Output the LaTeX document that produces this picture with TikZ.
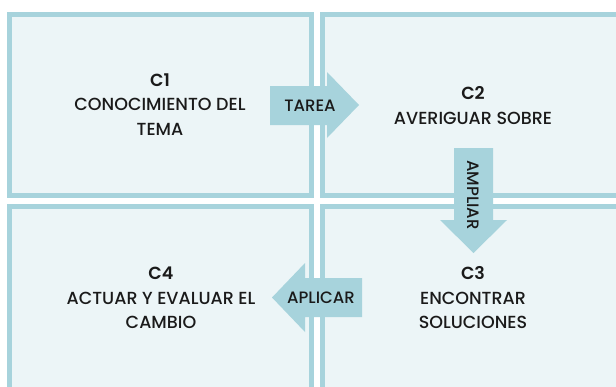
\documentclass[tikz,border=0pt]{standalone}
\usepackage{fontspec}
\setmainfont{Poppins}[UprightFont=* Medium,BoldFont=* SemiBold]
\definecolor{bord}{HTML}{A7D3DC}
\definecolor{fillc}{HTML}{ECF5F7}
\definecolor{txt}{HTML}{1A1A1A}
\begin{document}
\begin{tikzpicture}[x=1pt,y=-1pt,
  box/.style={draw=bord,fill=fillc,line width=5pt},
  arr/.style={fill=bord},
  lbl/.style={text=txt,font=\fontsize{17.5}{24.5}\selectfont,align=center,inner sep=0pt},
  alb/.style={text=txt,font=\fontsize{16.5}{18}\selectfont,inner sep=0pt}]
\clip (0,0) rectangle (616,386);
\fill[white] (0,0) rectangle (616,386);
\draw[box] (9.5,14.5) rectangle (311.5,195.5);
\draw[box] (322.5,14.5) rectangle (625,195.5);
\draw[box] (322.5,206.5) rectangle (625,395);
\draw[box] (9.5,206.5) rectangle (311.5,395);
% arrows
\fill[arr] (270,86) -- (327,86) -- (327,72) -- (359,105) -- (327,138) -- (327,125) -- (270,125) -- cycle;
\fill[arr] (454,148) -- (454,220) -- (440,220) -- (473.5,253) -- (507,220) -- (493,220) -- (493,148) -- cycle;
\fill[arr] (362,278) -- (305,278) -- (305,263) -- (272,297.5) -- (305,332) -- (305,317) -- (362,317) -- cycle;
\node[alb] (tarea) at (310,105.5) {TAREA};
\node[alb,rotate=-90] (ampliar) at (473.5,195) {AMPLIAR};
\node[alb] (aplicar) at (321,297.5) {APLICAR};
% texts
\node[lbl] (c1) at (160,104.5) {\textbf{C1}\\CONOCIMIENTO DEL\\TEMA};
\node[lbl] (c2) at (473,105.5) {\textbf{C2}\\AVERIGUAR SOBRE};
\node[lbl] (c3) at (473,298) {\textbf{C3}\\ENCONTRAR\\SOLUCIONES};
\node[lbl] (c4) at (161,298) {\textbf{C4}\\ACTUAR Y EVALUAR EL\\CAMBIO};
\end{tikzpicture}
\end{document}
